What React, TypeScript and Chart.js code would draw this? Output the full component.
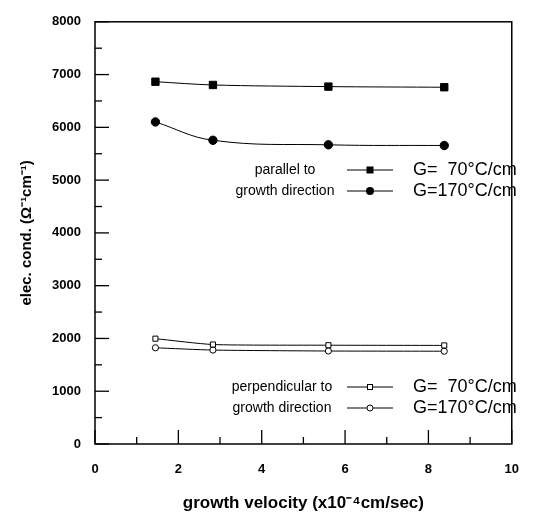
import React, { useEffect, useRef } from "react";
import { Chart, registerables } from "chart.js";

Chart.register(...registerables);

const velocity = [1.45, 2.83, 5.6, 8.38];
const parallel70 = [6865, 6803, 6772, 6760];
const parallel170 = [6102, 5755, 5669, 5656];
const perpendicular70 = [1996, 1885, 1872, 1868];
const perpendicular170 = [1823, 1780, 1762, 1758];

const xTickStep = 2;
const yTickStep = 1000;
const xTitle = "growth velocity (x10\u207B\u2074cm/sec)";
const yTitle = "elec. cond. (\u03A9\u207B\u00B9cm\u207B\u00B9)";
const legendTop = ["parallel to", "growth direction"];
const legendBottom = ["perpendicular to", "growth direction"];
const legendG = ["G=  70\u00B0C/cm", "G=170\u00B0C/cm"];

const FONT = "'Liberation Sans', Arial, Helvetica, sans-serif";

const framePlugin = {
  id: "frame",
  afterDraw(chart: any) {
    const { ctx, chartArea: a, scales } = chart;
    const xs = scales.x;
    const ys = scales.y;
    ctx.save();
    ctx.strokeStyle = "#000";
    ctx.lineWidth = 1.5;
    ctx.strokeRect(a.left, a.top, a.right - a.left, a.bottom - a.top);
    ctx.lineWidth = 1.3;
    for (let v = 0; v <= 8000; v += 500) {
      const y = ys.getPixelForValue(v);
      const len = v % 1000 === 0 ? 14 : 7;
      ctx.beginPath();
      ctx.moveTo(a.left, y);
      ctx.lineTo(a.left + len, y);
      ctx.stroke();
    }
    for (let v = 0; v <= 10; v += 1) {
      const x = xs.getPixelForValue(v);
      const len = v % 2 === 0 ? 14 : 7;
      ctx.beginPath();
      ctx.moveTo(x, a.bottom);
      ctx.lineTo(x, a.bottom - len);
      ctx.stroke();
    }

    const drawLegend = (labels: string[], cx: number, rows: number[], markers: string[]) => {
      ctx.fillStyle = "#000";
      ctx.textBaseline = "middle";
      ctx.font = `14px ${FONT}`;
      ctx.textAlign = "center";
      labels.forEach((t, i) => ctx.fillText(t, cx, rows[i]));
      ctx.font = `18px ${FONT}`;
      ctx.textAlign = "left";
      legendG.forEach((t, i) => ctx.fillText(t, a.left + 318, rows[i]));
      rows.forEach((y, i) => {
        ctx.lineWidth = 1;
        ctx.beginPath();
        ctx.moveTo(a.left + 252, y);
        ctx.lineTo(a.left + 298, y);
        ctx.stroke();
        const mx = a.left + 275;
        const m = markers[i];
        ctx.beginPath();
        if (m === "fs") {
          ctx.fillRect(mx - 3.5, y - 3.5, 7, 7);
        } else if (m === "fc") {
          ctx.arc(mx, y, 4, 0, Math.PI * 2);
          ctx.fill();
        } else if (m === "os") {
          ctx.fillStyle = "#fff";
          ctx.fillRect(mx - 2.5, y - 2.5, 5, 5);
          ctx.strokeRect(mx - 2.5, y - 2.5, 5, 5);
          ctx.fillStyle = "#000";
        } else {
          ctx.arc(mx, y, 3, 0, Math.PI * 2);
          ctx.fillStyle = "#fff";
          ctx.fill();
          ctx.stroke();
          ctx.fillStyle = "#000";
        }
      });
    };
    drawLegend(legendTop, a.left + 190, [170, 191], ["fs", "fc"]);
    drawLegend(legendBottom, a.left + 187, [387, 408], ["os", "oc"]);
    ctx.restore();
  },
};

export default function App() {
  const ref = useRef<HTMLCanvasElement>(null);
  useEffect(() => {
    if (!ref.current) return;
    const mk = (vals: number[]) => velocity.map((x, i) => ({ x, y: vals[i] }));
    const chart = new Chart(ref.current, {
      type: "line",
      data: {
        datasets: [
          {
            data: mk(parallel70),
            borderColor: "#000",
            borderWidth: 1,
            pointStyle: "rect",
            pointRadius: 5.2,
            pointBackgroundColor: "#000",
            pointBorderColor: "#000",
            tension: 0.3,
          },
          {
            data: mk(parallel170),
            borderColor: "#000",
            borderWidth: 1,
            pointStyle: "circle",
            pointRadius: 4.2,
            pointBackgroundColor: "#000",
            pointBorderColor: "#000",
            tension: 0.4,
          },
          {
            data: mk(perpendicular70),
            borderColor: "#000",
            borderWidth: 1,
            pointStyle: "rect",
            pointRadius: 3.6,
            pointBackgroundColor: "#fff",
            pointBorderColor: "#000",
            pointBorderWidth: 1,
            tension: 0.2,
          },
          {
            data: mk(perpendicular170),
            borderColor: "#000",
            borderWidth: 1,
            pointStyle: "circle",
            pointRadius: 3.1,
            pointBackgroundColor: "#fff",
            pointBorderColor: "#000",
            pointBorderWidth: 1,
            tension: 0.2,
          },
        ],
      },
      options: {
        animation: false,
        responsive: false,
        layout: { padding: { top: 14, right: 10, left: 0, bottom: 0 } },
        plugins: { legend: { display: false }, tooltip: { enabled: false } },
        scales: {
          x: {
            type: "linear",
            min: 0,
            max: 10,
            grid: { display: false, drawTicks: false },
            border: { display: false },
            ticks: {
              stepSize: xTickStep,
              color: "#000",
              font: { size: 13, family: FONT, weight: "bold" },
              padding: 18,
              callback: (v: any) => String(v),
            },
            title: {
              display: true,
              text: xTitle,
              color: "#000",
              font: { size: 17, family: FONT, weight: "bold" },
              padding: { top: 0, bottom: 3 },
            },
            afterFit: (s: any) => { s.height = 73; },
          },
          y: {
            type: "linear",
            min: 0,
            max: 8000,
            grid: { display: false, drawTicks: false },
            border: { display: false },
            ticks: {
              stepSize: yTickStep,
              color: "#000",
              font: { size: 13, family: FONT, weight: "bold" },
              padding: 14,
              callback: (v: any) => String(v),
            },
            title: {
              display: true,
              text: yTitle,
              color: "#000",
              font: { size: 15, family: FONT, weight: "bold" },
              padding: { top: 17.5, bottom: 0 },
            },
            afterFit: (s: any) => { s.width = 95; },
          },
        },
      },
      plugins: [framePlugin],
    });
    return () => chart.destroy();
  }, []);
  return (
    <div style={{ position: "fixed", left: 0, top: 0, width: 537, height: 517, background: "#fff" }}>
      <canvas ref={ref} width={537} height={517} />
    </div>
  );
}
